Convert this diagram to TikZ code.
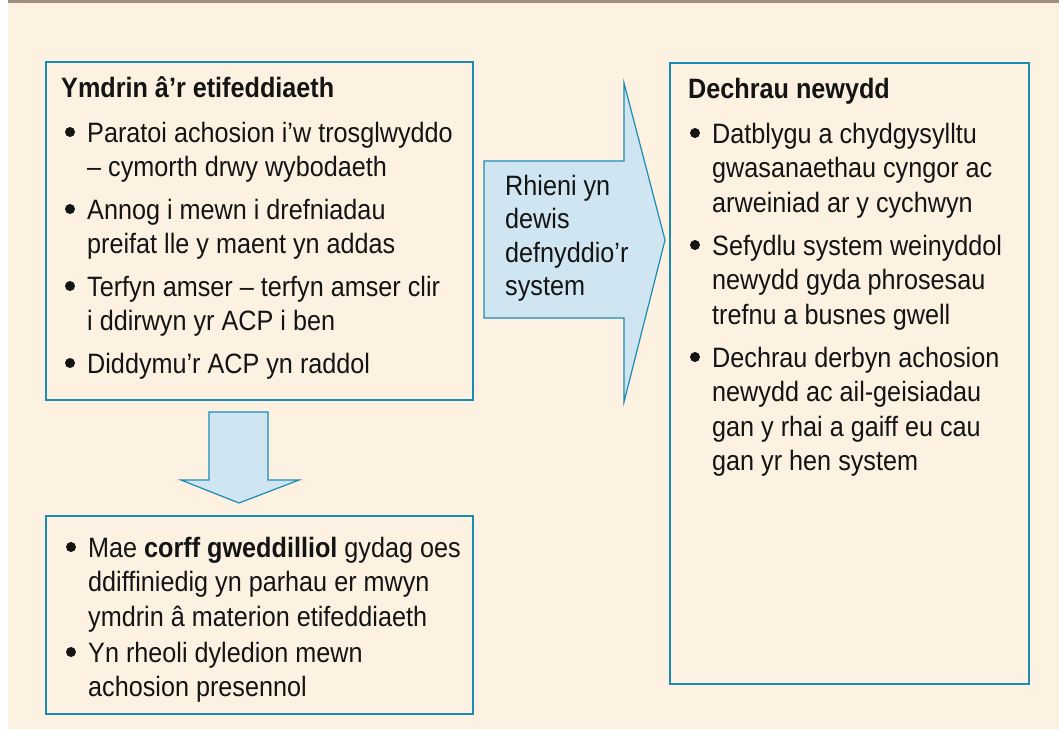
\documentclass[tikz,border=0pt]{standalone}
\usepackage{fontspec}
\setmainfont{Liberation Sans}[FakeStretch=0.9]
\usepackage{tikz}
\usetikzlibrary{calc}
\definecolor{paper}{HTML}{FDF1E2}
\definecolor{rulegray}{HTML}{9D8D81}
\definecolor{frame}{HTML}{1A8CB4}
\definecolor{pale}{HTML}{CFE5F1}
\definecolor{ink}{HTML}{141414}
\tikzset{box/.style={draw=frame,line width=1.8pt}}
\tikzset{blockarrow/.style={draw=frame,fill=pale,line width=1.2pt,line join=miter}}
% base of a node with several lines = baseline of its last line
\tikzset{txt/.style={anchor=base west,align=left,inner sep=0pt,text=ink,font=\fontsize{28}{34.5}\selectfont}}
\tikzset{head/.style={txt,font=\fontsize{28}{34.5}\selectfont\bfseries}}

\begin{document}
\begin{tikzpicture}[x=1pt,y=-1pt]
    \useasboundingbox (0,0) rectangle (1059,729);
    \fill [white] (0,0) rectangle (1059,729);
    \fill [paper] (8,0) rectangle (1059,729);
    \fill [rulegray] (8,0) rectangle (1059,3);

    % the three boxes
    \draw [box] (46,62) rectangle (473,400);
    \draw [box] (46,516) rectangle (473,714);
    \draw [box] (670,63) rectangle (1029,684);

    % block arrows
    \draw [blockarrow] (484,161) -- (624,161) -- (624,83) -- (665,240)
    -- (624,402) -- (624,318) -- (484,318) -- cycle;
    \draw [blockarrow] (209,412) -- (268,412) -- (268,480) -- (299,480)
    -- (239,503) -- (181,480) -- (209,480) -- cycle;

    \node [txt,font=\fontsize{28}{33.5}\selectfont] (rhieni) at (505,295.5)
    {Rhieni yn\\dewis\\defnyddio’r\\system};

    % left box
    \node [head] (ymdrin) at (61,97) {Ymdrin â’r etifeddiaeth};
    \node [txt] (paratoi) at (87,176.5) {Paratoi achosion i’w trosglwyddo\\– cymorth drwy wybodaeth};
    \node [txt] (annog) at (87,253.5) {Annog i mewn i drefniadau\\preifat lle y maent yn addas};
    \node [txt] (terfyn) at (87,330.5) {Terfyn amser – terfyn amser clir\\i ddirwyn yr ACP i ben};
    \node [txt] (diddymu) at (87,373) {Diddymu’r ACP yn raddol};

    % bottom box
    \node [txt] (corff) at (88,626) {Mae \textbf{corff gweddilliol} gydag oes\\ddiffiniedig yn parhau er mwyn\\ymdrin â materion etifeddiaeth};
    \node [txt] (rheoli) at (88,696.5) {Yn rheoli dyledion mewn\\achosion presennol};

    % right box
    \node [head] (dechrau) at (688,98) {Dechrau newydd};
    \node [txt] (datblygu) at (712,212) {Datblygu a chydgysylltu\\gwasanaethau cyngor ac\\arweiniad ar y cychwyn};
    \node [txt] (sefydlu) at (712,324) {Sefydlu system weinyddol\\newydd gyda phrosesau\\trefnu a busnes gwell};
    \node [txt] (derbyn) at (712,470.5) {Dechrau derbyn achosion\\newydd ac ail-geisiadau\\gan y rhai a gaiff eu cau\\gan yr hen system};

    % bullets, k = lines above the last one
    \foreach \n/\k in {paratoi/1,annog/1,terfyn/1,diddymu/0,corff/2,rheoli/1,datblygu/2,sefydlu/2,derbyn/3}
    \fill [ink] (\n.base west) ++(-17,{-10-34.5*\k}) circle (5);
\end{tikzpicture}
\end{document}
